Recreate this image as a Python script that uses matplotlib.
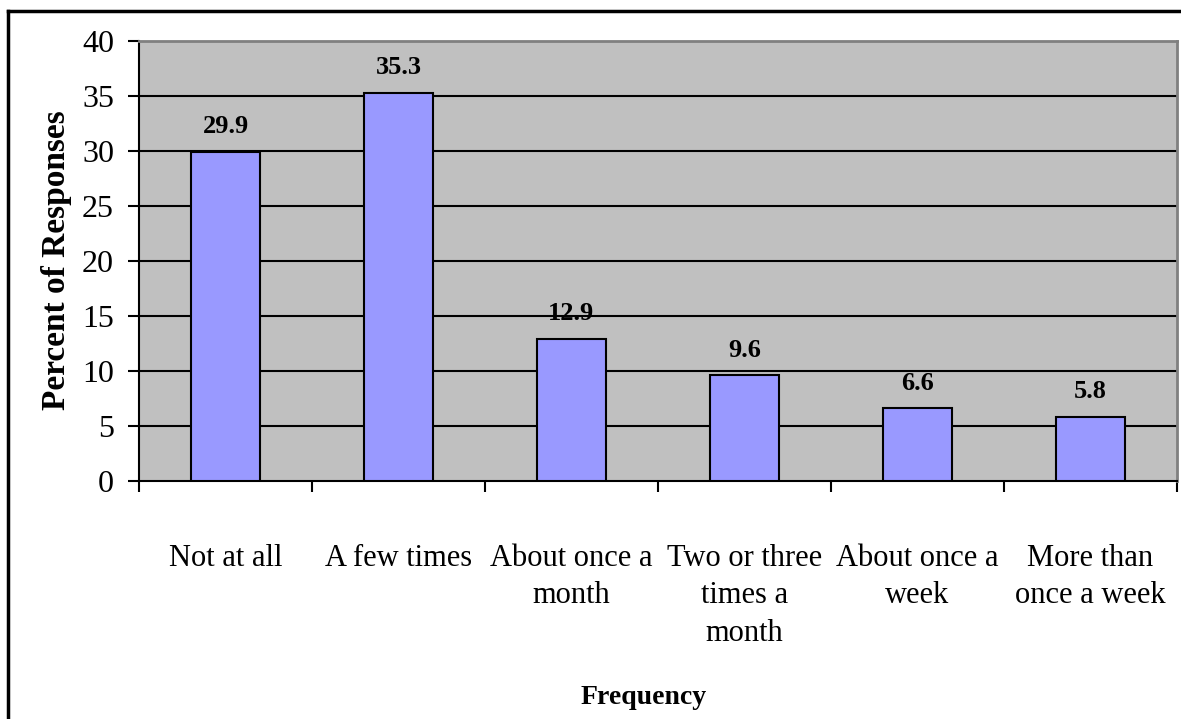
import matplotlib.pyplot as plt
from matplotlib.lines import Line2D
import numpy as np

categories = ['Not at all', 'A few times', 'About once a\nmonth',
              'Two or three\ntimes a\nmonth', 'About once a\nweek',
              'More than\nonce a week']
percents = [29.9, 35.3, 12.9, 9.6, 6.6, 5.8]
yticks = [0, 5, 10, 15, 20, 25, 30, 35, 40]

plt.rcParams['font.family'] = ['Liberation Serif', 'DejaVu Serif']

fig = plt.figure(figsize=(11.81, 7.19), dpi=100)
W, H = 1181.0, 719.0
ax = fig.add_axes([139 / W, 1 - 481 / H, (1177 - 139) / W, (481 - 41) / H])
ax.set_facecolor('#C0C0C0')

x = np.arange(len(categories))
ax.bar(x, percents, width=0.4, color='#9999FF', edgecolor='black',
       linewidth=1.5, zorder=3)
for xi, v in zip(x, percents):
    ax.annotate(f'{v:.1f}', (xi, v), xytext=(0, 10), textcoords='offset points',
                ha='center', va='bottom', fontsize=19, fontweight='bold', zorder=4)

ax.set_xlim(-0.5, len(categories) - 0.5)
ax.set_ylim(0, 40)
ax.set_yticks(yticks)
ax.tick_params(axis='y', labelsize=23, length=8, width=1.5, direction='out', pad=10)
for y in yticks[1:-1]:
    ax.axhline(y, color='black', lw=1.5, zorder=1)

# category labels on major ticks, tick marks between categories
ax.set_xticks(x)
ax.set_xticklabels(categories, fontsize=22, linespacing=1.4)
ax.tick_params(axis='x', which='major', length=0, pad=45)
ax.set_xticks(np.arange(-0.5, len(categories)), minor=True)
ax.tick_params(axis='x', which='minor', length=8, width=1.5, direction='out')

for side in ['top', 'right']:
    ax.spines[side].set_color('#808080')
    ax.spines[side].set_linewidth(2)
for side in ['left', 'bottom']:
    ax.spines[side].set_color('black')
    ax.spines[side].set_linewidth(1.5)

fig.text(57 / W, 1 - 260 / H, 'Percent of Responses', rotation=90,
         ha='center', va='center', fontsize=24, fontweight='bold')
fig.text(644 / W, 1 - 698 / H, 'Frequency', ha='center', va='center',
         fontsize=20, fontweight='bold')

# chart frame (left and top edges)
fig.add_artist(Line2D([8 / W, 8 / W], [0, 1 - 11 / H], color='black', lw=2.5,
                      transform=fig.transFigure))
fig.add_artist(Line2D([8 / W, 1], [1 - 11 / H, 1 - 11 / H], color='black', lw=2.5,
                      transform=fig.transFigure))

fig.savefig('out.png', dpi=100)
